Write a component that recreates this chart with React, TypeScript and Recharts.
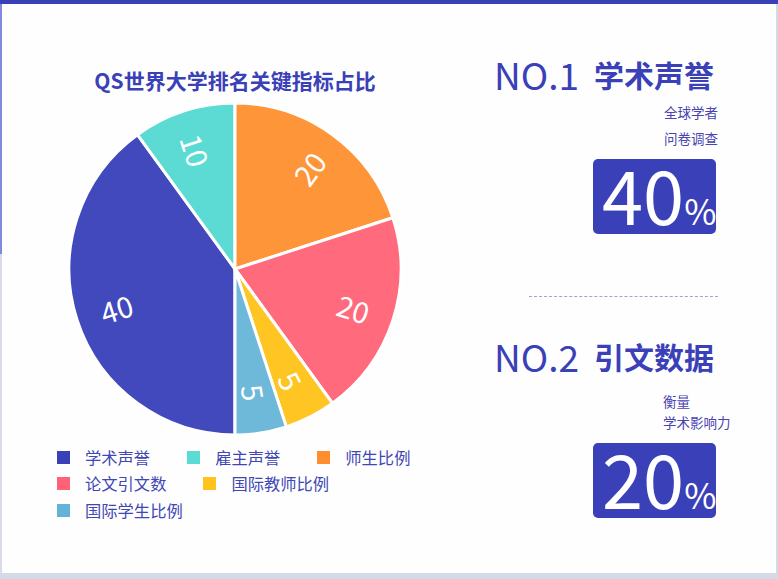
import React from "react";
import { PieChart, Pie, Cell, Legend } from "recharts";

const categories = ["学术声誉", "雇主声誉", "师生比例", "论文引文数", "国际教师比例", "国际学生比例"];
const weights = [40, 10, 20, 20, 5, 5];
const sliceColors = ["#4249bc", "#5bdbd3", "#ff9539", "#ff6b7c", "#ffc523", "#6eb8d9"];
const legendColors = ["#3a40b8", "#5bdbd3", "#ff8f2e", "#ff6177", "#ffc31c", "#63b3d6"];

const title = "QS世界大学排名关键指标占比";
const highlights = [
  { rank: "NO.1", name: "学术声誉", notes: ["全球学者", "问卷调查"], pct: 40 },
  { rank: "NO.2", name: "引文数据", notes: ["衡量", "学术影响力"], pct: 20 },
];

const pieData = categories.map((name, i) => ({ name, value: weights[i] }));

const FONT = "'Noto Sans CJK SC', 'Noto Sans', sans-serif";
const INDIGO = "#3a40b8";

// 径向标签：沿半径方向旋转，左半边翻转避免倒字
const renderLabel = (props: any) => {
  const { cx, cy, midAngle, value } = props;
  const r = 125;
  const rad = (-midAngle * Math.PI) / 180;
  const x = cx + Math.cos(rad) * r;
  const y = cy + Math.sin(rad) * r;
  let rot = -midAngle;
  if (Math.cos((midAngle * Math.PI) / 180) < 0) rot += 180;
  return (
    <text
      x={x}
      y={y}
      fill="#fff"
      fontSize={29}
      fontFamily={FONT}
      textAnchor="middle"
      dominantBaseline="central"
      transform={`rotate(${rot}, ${x}, ${y})`}
    >
      {value}
    </text>
  );
};

const renderLegend = () => (
  <div style={{ display: "flex", flexWrap: "wrap", columnGap: 37, width: 370 }}>
    {categories.map((c, i) => (
      <div key={c} style={{ display: "flex", alignItems: "center", height: 26.5 }}>
        <span style={{ width: 13, height: 13, background: legendColors[i], marginRight: 15 }} />
        <span style={{ fontSize: 16.3, color: "#4047b5", fontFamily: FONT, lineHeight: "17px" }}>{c}</span>
      </div>
    ))}
  </div>
);

const noteStyle: React.CSSProperties = { position: "absolute", fontSize: 13.5, lineHeight: "16px", color: "#4a44b0", fontFamily: FONT, whiteSpace: "nowrap" };

function Highlight({ item, top, notesLeft }: { item: typeof highlights[0]; top: number; notesLeft?: number }) {
  return (
    <>
      <div style={{ position: "absolute", left: 494, top: top - 19, height: 38, display: "flex", alignItems: "center", color: INDIGO, fontFamily: FONT, whiteSpace: "nowrap" }}>
        <span style={{ fontSize: 37, fontWeight: 400, lineHeight: "38px" }}>{item.rank}</span>
        <span style={{ fontSize: 30, fontWeight: 700, marginLeft: 15, lineHeight: "38px" }}>{item.name}</span>
      </div>
      {item.notes.map((n, i) =>
        notesLeft != null ? (
          <div key={n} style={{ ...noteStyle, left: notesLeft, top: top + 37 + i * 21 }}>{n}</div>
        ) : (
          <div key={n} style={{ ...noteStyle, right: 60, top: top + 30 + i * 26, textAlign: "right" }}>{n}</div>
        )
      )}
    </>
  );
}

function PctBox({ pct, top }: { pct: number; top: number }) {
  return (
    <div style={{ position: "absolute", left: 593, top, width: 123, height: 75, background: INDIGO, borderRadius: 5 }}>
      <div style={{ position: "absolute", left: 9, top: -3, color: "#fff", fontFamily: FONT, whiteSpace: "nowrap", display: "flex", alignItems: "baseline" }}>
        <span style={{ fontSize: 74, lineHeight: "74px" }}>{pct}</span>
        <span style={{ fontSize: 35, lineHeight: "74px" }}>%</span>
      </div>
    </div>
  );
}

export default function App() {
  return (
    <div style={{ position: "absolute", left: 0, top: 0, width: 778, height: 579, background: "#fefefe", overflow: "hidden" }}>
      {/* 边框 */}
      <div style={{ position: "absolute", left: 0, top: 0, width: 778, height: 4, background: "#3940b8" }} />
      <div style={{ position: "absolute", left: 0, top: 4, width: 2, height: 250, background: "#8189dc" }} />
      <div style={{ position: "absolute", left: 0, top: 254, width: 2, height: 320, background: "#d8dce8" }} />
      <div style={{ position: "absolute", left: 776, top: 4, width: 2, height: 570, background: "#d5d9e5" }} />
      <div style={{ position: "absolute", left: 0, top: 573, width: 778, height: 6, background: "#d5dbe6" }} />

      <div style={{ position: "absolute", left: 0, width: 470, top: 66, textAlign: "center", fontSize: 21, fontWeight: 700, color: INDIGO, fontFamily: FONT, lineHeight: "28px" }}>
        {title}
      </div>

      <div style={{ position: "absolute", left: 0, top: 0 }}>
        <PieChart width={470} height={579} margin={{ top: 0, right: 0, bottom: 0, left: 0 }}>
          <Pie
            data={pieData}
            dataKey="value"
            nameKey="name"
            cx={235}
            cy={269}
            outerRadius={166}
            startAngle={-90}
            endAngle={-450}
            stroke="#fff"
            strokeWidth={3}
            label={renderLabel}
            labelLine={false}
            isAnimationActive={false}
          >
            {pieData.map((d, i) => (
              <Cell key={d.name} fill={sliceColors[i]} />
            ))}
          </Pie>
          <Legend content={renderLegend} wrapperStyle={{ left: 57, top: 444, width: 370, bottom: "auto" }} />
        </PieChart>
      </div>

      <Highlight item={highlights[0]} top={74} />
      <PctBox pct={highlights[0].pct} top={159} />

      <div style={{ position: "absolute", left: 529, top: 296, width: 189, borderTop: "1px dashed #9aa0e6" }} />

      <Highlight item={highlights[1]} top={356} notesLeft={663} />
      <PctBox pct={highlights[1].pct} top={443} />
    </div>
  );
}
